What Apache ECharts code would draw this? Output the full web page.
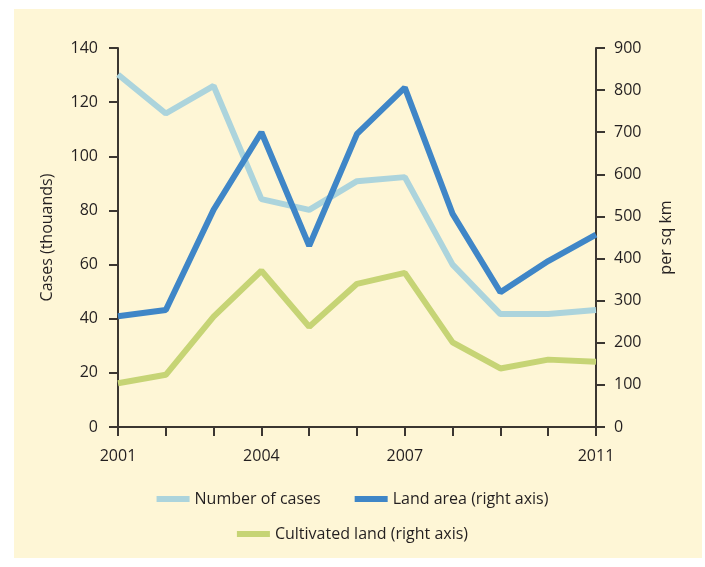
<!DOCTYPE html>
<html>
<head>
<meta charset="utf-8">
<script src="https://cdn.jsdelivr.net/npm/echarts@6/dist/echarts.min.js"></script>
<style>
html,body{margin:0;padding:0;background:#ffffff;}
#wrap{position:absolute;left:14px;top:9px;width:688px;height:549px;background:#fef6d6;}
#chart{position:absolute;left:0;top:0;width:705px;height:567px;}
</style>
</head>
<body>
<div id="wrap"></div>
<div id="chart"></div>
<script>
const years = ['2001','2002','2003','2004','2005','2006','2007','2008','2009','2010','2011'];
const shownYears = ['2001','2004','2007','2011'];
const numberOfCases = [130.2, 115.8, 126, 84.2, 80.2, 90.8, 92.3, 60, 41.7, 41.7, 43.2];
const landArea = [263, 278, 516, 700, 430, 696, 806, 506, 320, 394, 457];
const cultivatedLand = [104, 124, 262, 371, 238, 340, 366, 201, 139, 160, 155];
const leftTicks = {min: 0, max: 140, interval: 20};
const rightTicks = {min: 0, max: 900, interval: 100};

const FONT = 'Open Sans';
const TXT = '#231f20';
const AX = '#3b3631';
const cCases = '#acd4dc';
const cLand = '#3f86c7';
const cCult = '#c6d475';

const chart = echarts.init(document.getElementById('chart'), null, {renderer: 'canvas'});
chart.setOption({
  animation: false,
  backgroundColor: 'transparent',
  textStyle: {fontFamily: FONT, color: TXT},
  grid: {left: 118, right: 109, top: 48, bottom: 140, containLabel: false},
  legend: [
    {
      data: ['Number of cases', 'Land area (right axis)'],
      top: 486, left: 'center',
      itemWidth: 33, itemHeight: 6, itemGap: 34,
      icon: 'rect',
      textStyle: {fontFamily: FONT, fontSize: 16, color: TXT}
    },
    {
      data: ['Cultivated land (right axis)'],
      top: 521, left: 'center',
      itemWidth: 33, itemHeight: 6,
      icon: 'rect',
      textStyle: {fontFamily: FONT, fontSize: 16, color: TXT}
    }
  ],
  xAxis: {
    type: 'category',
    data: years,
    boundaryGap: false,
    axisLine: {lineStyle: {color: AX, width: 2}},
    axisTick: {show: true, interval: 0, length: 9, inside: false, lineStyle: {color: AX, width: 2}},
    axisLabel: {
      interval: 0,
      margin: 21,
      fontFamily: FONT, fontSize: 16, color: TXT,
      formatter: v => shownYears.includes(v) ? v : ''
    },
    splitLine: {show: false}
  },
  yAxis: [
    {
      type: 'value',
      position: 'left',
      min: leftTicks.min, max: leftTicks.max, interval: leftTicks.interval,
      name: 'Cases (thouands)',
      nameLocation: 'middle',
      nameGap: 63,
      nameTextStyle: {fontFamily: FONT, fontSize: 16, color: TXT},
      axisLine: {show: true, lineStyle: {color: AX, width: 2}},
      axisTick: {show: true, length: 9, lineStyle: {color: AX, width: 2}},
      axisLabel: {margin: 20, fontFamily: FONT, fontSize: 16, color: TXT},
      splitLine: {show: false}
    },
    {
      type: 'value',
      position: 'right',
      min: rightTicks.min, max: rightTicks.max, interval: rightTicks.interval,
      name: 'per sq km',
      nameLocation: 'middle',
      nameGap: 62,
      nameRotate: 90,
      nameTextStyle: {fontFamily: FONT, fontSize: 16, color: TXT},
      axisLine: {show: true, lineStyle: {color: AX, width: 2}},
      axisTick: {show: true, length: 9, lineStyle: {color: AX, width: 2}},
      axisLabel: {margin: 18, fontFamily: FONT, fontSize: 16, color: TXT},
      splitLine: {show: false}
    }
  ],
  series: [
    {
      name: 'Number of cases', type: 'line', yAxisIndex: 0,
      data: numberOfCases, symbol: 'none',
      lineStyle: {color: cCases, width: 6},
      itemStyle: {color: cCases}
    },
    {
      name: 'Land area (right axis)', type: 'line', yAxisIndex: 1,
      data: landArea, symbol: 'none',
      lineStyle: {color: cLand, width: 6},
      itemStyle: {color: cLand}
    },
    {
      name: 'Cultivated land (right axis)', type: 'line', yAxisIndex: 1,
      data: cultivatedLand, symbol: 'none',
      lineStyle: {color: cCult, width: 6},
      itemStyle: {color: cCult}
    }
  ]
});
</script>
</body>
</html>
